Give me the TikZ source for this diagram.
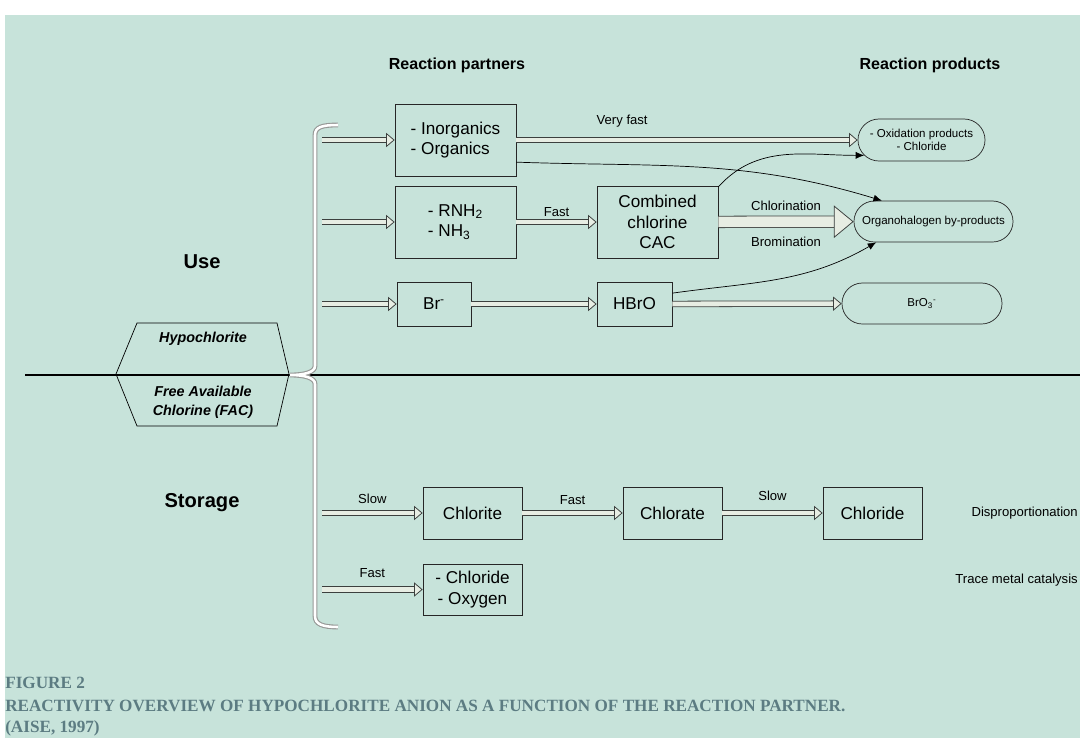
\documentclass[tikz,border=0pt]{standalone}
\usepackage{fontspec}
\setmainfont{Liberation Sans}
\newfontfamily\capfont{Liberation Serif}
\usetikzlibrary{arrows.meta,shapes.misc}

\definecolor{bgcol}{RGB}{199,227,218}
\definecolor{arrowfill}{RGB}{231,237,227}
\definecolor{arrowline}{RGB}{60,64,62}
\definecolor{capcol}{RGB}{92,124,130}
\definecolor{bracketline}{RGB}{150,152,150}

\begin{document}
\begin{tikzpicture}[x=0.025cm,y=-0.025cm,
  box/.style={draw=black!85,line width=0.5pt,inner sep=0pt,font=\fontsize{12.2}{14.6}\selectfont},
  prod/.style={rounded rectangle,draw=black!85,line width=0.5pt,inner sep=0pt,align=center,font=\fontsize{8.2}{9.6}\selectfont},
  hollow/.style={draw=arrowline,double=arrowfill,double distance=3.4pt,line width=0.55pt,
    -{Triangle[length=6pt,width=10pt,fill=arrowfill,line width=0.55pt]}},
  bigarrow/.style={draw=arrowline,double=arrowfill,double distance=7.6pt,line width=0.55pt,
    -{Triangle[length=14pt,width=23pt,fill=arrowfill,line width=0.55pt]}},
  thinarrow/.style={black,line width=0.5pt,-{Latex[length=6pt,width=5pt]}},
  lbl/.style={inner sep=0pt,font=\fontsize{9.3}{11}\selectfont},
  colhead/.style={font=\bfseries\fontsize{11.4}{13}\selectfont},
  zone/.style={font=\bfseries\fontsize{14.3}{17}\selectfont},
  hexlabel/.style={align=center,font=\bfseries\itshape\fontsize{10.2}{13.5}\selectfont},
  bracket/.style={draw=bracketline,double=white,double distance=1.8pt,line width=0.8pt},
  capline/.style={anchor=west,inner sep=0pt,text=capcol,font=\capfont\bfseries\fontsize{12.2}{14}\selectfont},
]
\useasboundingbox (0,0) rectangle (1080,738);
\clip (0,0) rectangle (1080,738);
\fill[white] (0,0) rectangle (1080,738);
\fill[bgcol] (5,15) rectangle (1080,738);

% column heads and zones
\draw (457,65) node[colhead] (partners) {Reaction partners};
\draw (930,65) node[colhead] (products) {Reaction products};
\draw (202,262) node[zone] (use) {Use};
\draw (202,503) node[zone] (storage) {Storage};

% hypochlorite / FAC
\draw[line width=0.5pt] (116,374) -- (137,323) -- (277,323) -- (289,374) -- (277,426) -- (137,426) -- cycle;
\draw[line width=1.6pt] (25,375) -- (1080,375);
\draw (203,339) node[hexlabel] (hypo) {Hypochlorite};
\draw (203,402) node[hexlabel] (fac) {Free Available\\Chlorine (FAC)};

% bracket
\draw[bracket] (338,125) .. controls (322,125) and (315,127) .. (315,135) -- (315,366)
  .. controls (315,372) and (305,375) .. (290,375) .. controls (305,375) and (315,378) .. (315,384)
  -- (315,616) .. controls (315,624) and (322,627) .. (338,627);
\coordinate (u1) at (322,140);
\coordinate (u2) at (322,222);
\coordinate (u3) at (322,304);
\coordinate (s1) at (322,513);
\coordinate (s2) at (322,589.5);

% use: partners
\draw (455.5,140) node[box,minimum width=3.025cm,minimum height=1.8cm,align=left] (inorg) {- Inorganics\\- Organics};
\draw (455.5,222) node[box,minimum width=3.025cm,minimum height=1.8cm,align=left] (amine) {- RNH\textsubscript{2}\\- NH\textsubscript{3}};
\draw (434,304) node[box,minimum width=1.85cm,minimum height=1.1cm] (brom) {Br\textsuperscript{-}};
\draw (657.5,222) node[box,minimum width=3.025cm,minimum height=1.8cm,align=center] (cac) {Combined\\chlorine\\CAC};
\draw (634.5,304) node[box,minimum width=1.875cm,minimum height=1.1cm] (hbro) {HBrO};

% use: products
\draw (921.5,140) node[prod,minimum width=3.175cm,minimum height=1.05cm] (oxid) {- Oxidation products\\- Chloride};
\draw (933.5,221.5) node[prod,minimum width=3.975cm,minimum height=1.025cm] (organo) {Organohalogen by-products};
\draw (922,303.5) node[prod,minimum width=4cm,minimum height=1.025cm] (bro3) {BrO\textsubscript{3}\textsuperscript{-}};

\draw[hollow] (u1) -- (inorg);
\draw[hollow] (u2) -- (amine);
\draw[hollow] (u3) -- (brom);
\draw[hollow] (inorg) -- node[lbl,pos=0.31,yshift=13.5pt] {Very fast} (oxid);
\draw[hollow] (amine) -- node[lbl,yshift=7.4pt] {Fast} (cac);
\draw[hollow] (brom) -- (hbro);
\draw[hollow] (hbro) -- (bro3);
\draw[bigarrow] (cac) -- node[lbl,yshift=11.4pt] {Chlorination} node[lbl,yshift=-14.2pt] {Bromination} (organo);

\draw[thinarrow] (inorg.-20) to[out=-2,in=163] (organo.158);
\draw[thinarrow] (cac.30) to[out=48,in=180] (oxid.195);
\draw[thinarrow] (hbro.16) to[out=8,in=-150] (organo.200);

% storage
\draw (472.5,513) node[box,minimum width=2.475cm,minimum height=1.3cm] (chlorite) {Chlorite};
\draw (672.5,513) node[box,minimum width=2.475cm,minimum height=1.3cm] (chlorate) {Chlorate};
\draw (872.5,513) node[box,minimum width=2.475cm,minimum height=1.3cm] (chloride) {Chloride};
\draw (472.5,589.5) node[box,minimum width=2.475cm,minimum height=1.275cm,align=center] (clox) {- Chloride\\- Oxygen};

\draw[hollow] (s1) -- node[lbl,yshift=10pt] {Slow} (chlorite);
\draw[hollow] (chlorite) -- node[lbl,yshift=9.2pt] {Fast} (chlorate);
\draw[hollow] (chlorate) -- node[lbl,yshift=12pt] {Slow} (chloride);
\draw[hollow] (s2) -- node[lbl,yshift=11.4pt] {Fast} (clox);

\draw (1078,513) node[lbl,anchor=east] (disprop) {Disproportionation};
\draw (1078,580) node[lbl,anchor=east] (trace) {Trace metal catalysis};

% caption
\draw (5,683) node[capline] (fig) {FIGURE 2};
\draw (5,706) node[capline] (captitle) {REACTIVITY OVERVIEW OF HYPOCHLORITE ANION AS A FUNCTION OF THE REACTION PARTNER.};
\draw (5,728) node[capline] (capsrc) {(AISE, 1997)};
\end{tikzpicture}
\end{document}
